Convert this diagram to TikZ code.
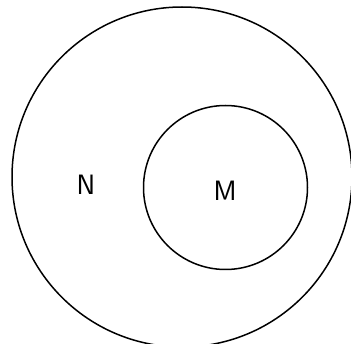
\documentclass[tikz,border=0pt]{standalone}
\usepackage{tikz}
\usetikzlibrary{shapes}

\begin{document}
\begin{tikzpicture}[menge/.style={draw, circle, line width=1.5pt, minimum size=2*#1, inner sep=0pt, outer sep=0pt}, x=1pt, y=1pt,
				font=\sffamily\fontsize{28}{32}\selectfont]
				\useasboundingbox (0,0) rectangle (351,343);
				%Mengen
				\node[menge=170pt] (setN) at (182,166) {};
				\node[menge=82pt] (setM) at (225.5,155.5) {};
				%Beschriftung
				\node (labN) at (86,158) {N};
				\node (labM) at (225,152) {M};
			\end{tikzpicture}
\end{document}
